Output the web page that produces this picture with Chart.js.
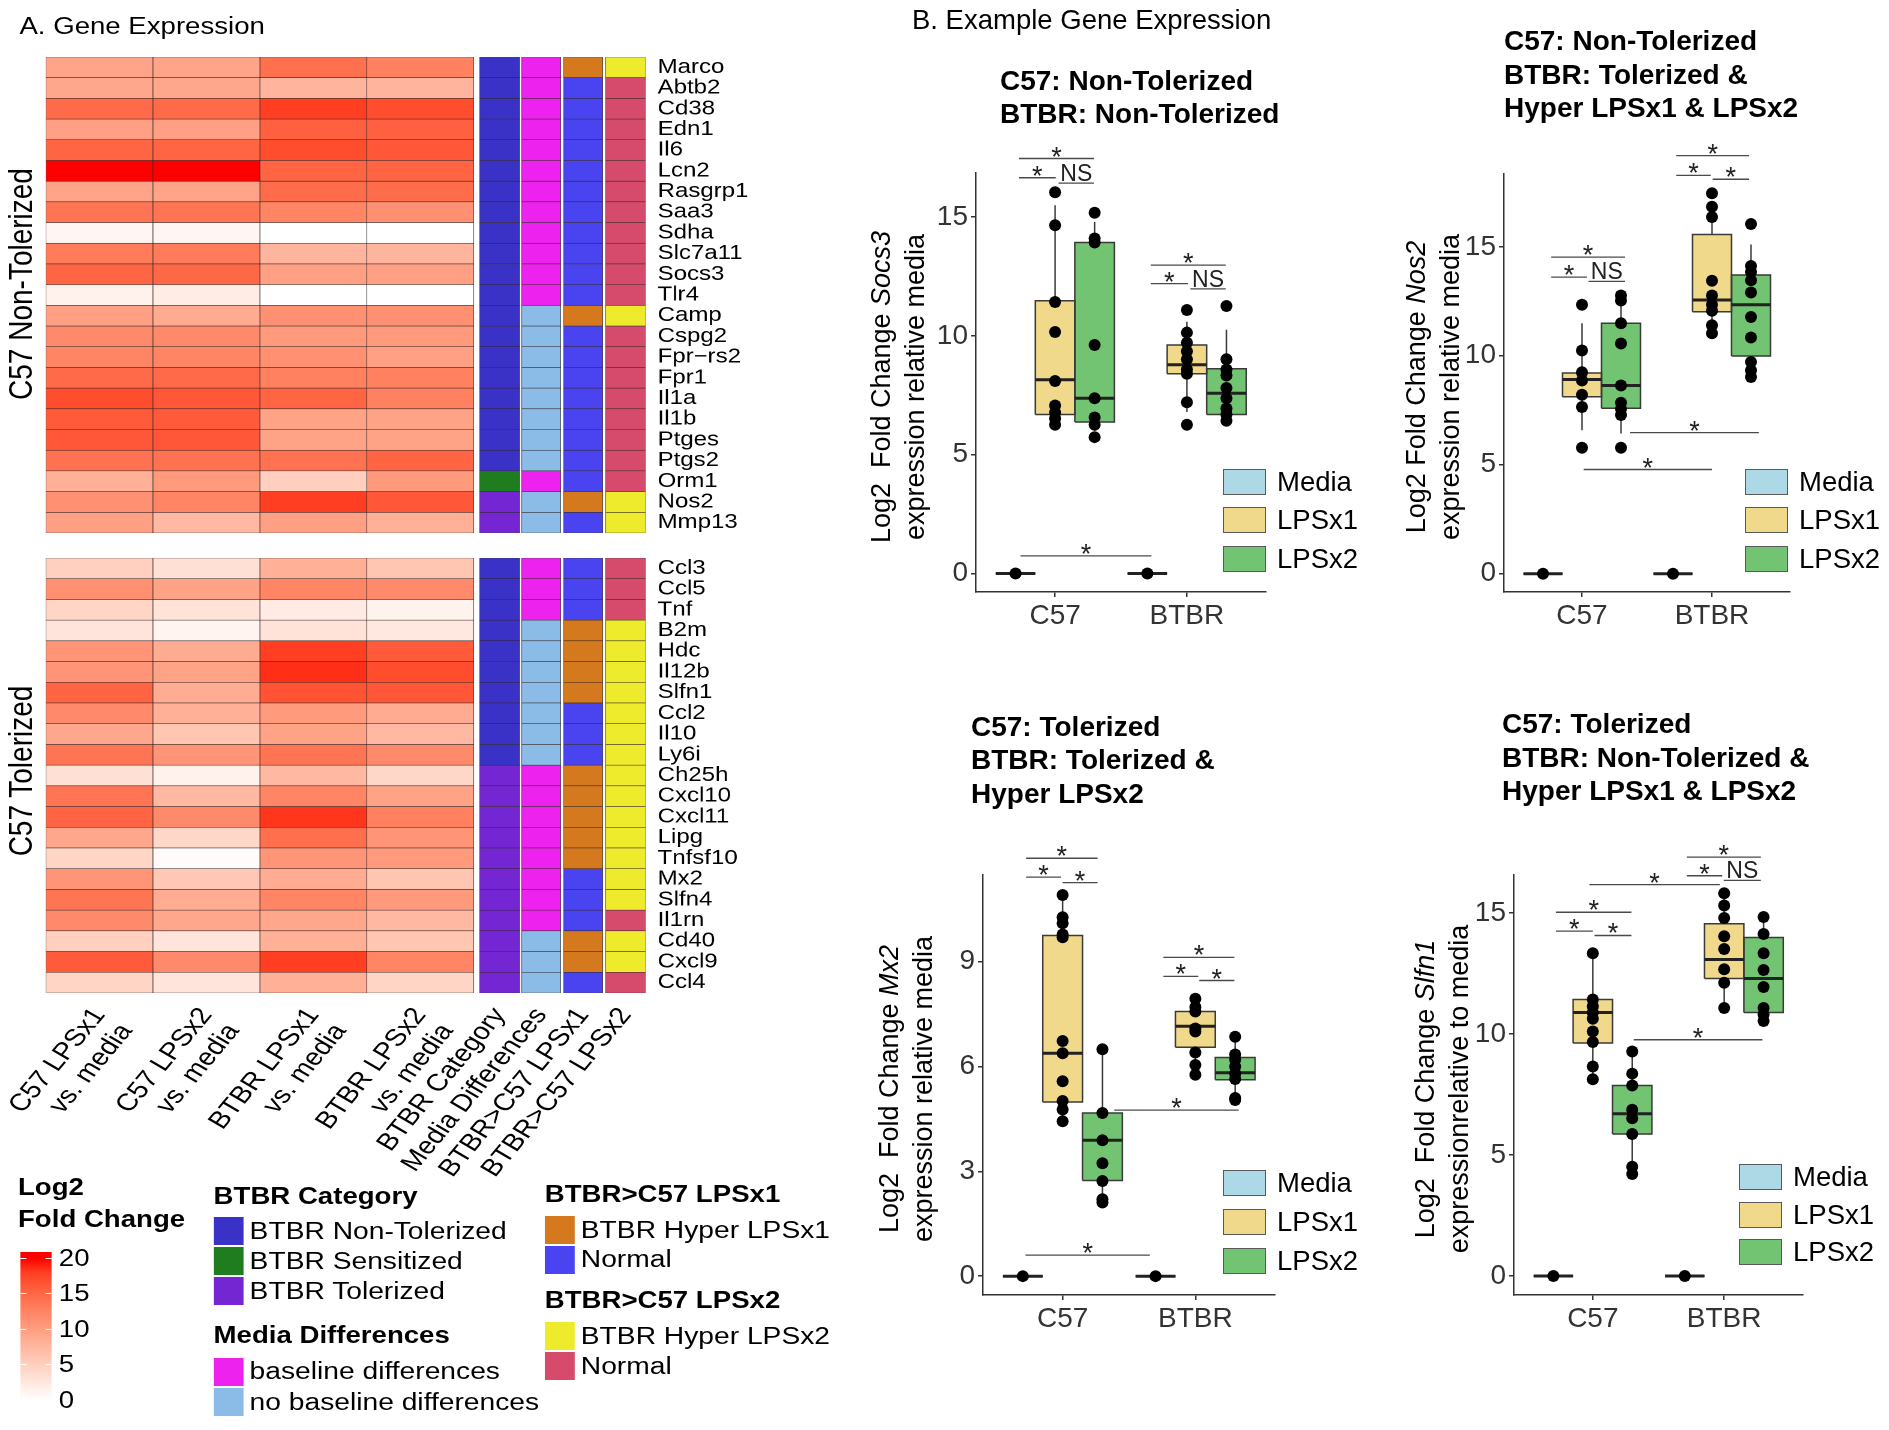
<!DOCTYPE html>
<html>
<head>
<meta charset="utf-8">
<title>Gene expression</title>
<script src="https://cdn.jsdelivr.net/npm/chart.js@4.4.1/dist/chart.umd.min.js"></script>
<style>
  html, body { margin: 0; padding: 0; background: #fff; }
  body { width: 1889px; height: 1430px; position: relative; overflow: hidden;
         font-family: 'Liberation Sans', Arial, Helvetica, sans-serif; color: #000; }
  #panelA { position: absolute; left: 0; top: 0; width: 1575px; height: 1430px;
            transform: scaleX(1.2); transform-origin: 0 0; }
  #panelB { position: absolute; left: 0; top: 0; width: 1889px; height: 1430px; }
  .t { position: absolute; white-space: nowrap; }
  .k { position: absolute; box-sizing: border-box; }
  canvas { position: absolute; }
</style>
</head>
<body>
<div id="panelA"></div>
<div id="panelB"></div>
<script>
const FONT = "'Liberation Sans', Arial, Helvetica, sans-serif";
Chart.defaults.font.family = FONT;
Chart.defaults.animation = false;

// ---------- A. heatmap ----------
const genesTop = ['Marco', 'Abtb2', 'Cd38', 'Edn1', 'Il6', 'Lcn2', 'Rasgrp1', 'Saa3', 'Sdha', 'Slc7a11', 'Socs3', 'Tlr4',
  'Camp', 'Cspg2', 'Fpr\u2212rs2', 'Fpr1', 'Il1a', 'Il1b', 'Ptges', 'Ptgs2', 'Orm1', 'Nos2', 'Mmp13'];
const genesBottom = ['Ccl3', 'Ccl5', 'Tnf', 'B2m', 'Hdc', 'Il12b', 'Slfn1', 'Ccl2', 'Il10', 'Ly6i', 'Ch25h', 'Cxcl10',
  'Cxcl11', 'Lipg', 'Tnfsf10', 'Mx2', 'Slfn4', 'Il1rn', 'Cd40', 'Cxcl9', 'Ccl4'];
const heatLabels = [['C57 LPSx1', 'vs. media'], ['C57 LPSx2', 'vs. media'], ['BTBR LPSx1', 'vs. media'],
  ['BTBR LPSx2', 'vs. media'], 'BTBR Category', 'Media Differences', 'BTBR>C57 LPSx1', 'BTBR>C57 LPSx2'];

// log2 fold change, top block
const topC57x1  = [9.4, 9.1, 14.8, 9.8, 15.3, 20, 9.4, 13.9, 1, 13.3, 15.3, 1.5, 9.8, 11.9, 12.4, 14.8, 17, 16, 16.3, 14.1, 8.2, 11.3, 9.8];
const topC57x2  = [9.4, 9.1, 14.8, 9.8, 15.3, 20, 9.4, 13.9, 1, 13.3, 15, 2, 8.7, 11.9, 12.4, 14.8, 16.3, 16, 16.3, 14.1, 10.4, 12.4, 7.4];
const topBTBRx1 = [14.3, 7.7, 18, 15.6, 17, 15.3, 14.6, 12.4, 0, 7.7, 9.8, 0, 11.4, 10.4, 11.3, 12.8, 15.3, 9.5, 9.5, 14.1, 4.9, 18, 9.8];
const topBTBRx2 = [12.8, 7.7, 17, 15.6, 16.3, 15.3, 14.6, 11.3, 0, 7.7, 9.8, 0, 11.4, 10.4, 9.8, 12.8, 12.8, 9.5, 9.5, 15.3, 10.4, 16.3, 8.2];
// bottom block
const botC57x1  = [4.9, 11.3, 4.4, 2.8, 10.9, 10.9, 15.3, 11.9, 9.1, 13.9, 3.3, 13.9, 15.3, 9.1, 4.4, 10.9, 13.9, 11.9, 4.9, 16, 4.4];
const botC57x2  = [3.3, 9.5, 2.9, 1.2, 8.6, 9.5, 8.6, 8.2, 6, 10.9, 1.5, 7.4, 11.9, 4.2, 0.4, 5.8, 8.6, 9.1, 2.8, 11.9, 2.8];
const botBTBRx1 = [8.2, 12.4, 2.1, 3.0, 18, 18.8, 16.6, 10.4, 9.5, 13.9, 7.4, 12.4, 18.4, 14.4, 10.9, 8.6, 12.4, 9.1, 8.2, 18, 8.2];
const botBTBRx2 = [6, 11.9, 1.3, 2.4, 16, 17, 16.3, 8.7, 7.4, 11.9, 4.2, 9.5, 12.8, 10.9, 10.4, 6, 10.4, 7.4, 6, 12.4, 4.4];

// annotation columns
const catTop   = ['NT','NT','NT','NT','NT','NT','NT','NT','NT','NT','NT','NT','NT','NT','NT','NT','NT','NT','NT','NT','S','T','T'];
const mediaTop = ['B','B','B','B','B','B','B','B','B','B','B','B','NB','NB','NB','NB','NB','NB','NB','NB','B','NB','NB'];
const lps1Top  = ['H','N','N','N','N','N','N','N','N','N','N','N','H','N','N','N','N','N','N','N','N','H','N'];
const lps2Top  = ['H','N','N','N','N','N','N','N','N','N','N','N','H','N','N','N','N','N','N','N','N','H','H'];
const catBot   = ['NT','NT','NT','NT','NT','NT','NT','NT','NT','NT','T','T','T','T','T','T','T','T','T','T','T'];
const mediaBot = ['B','B','B','NB','NB','NB','NB','NB','NB','NB','B','B','B','B','B','B','B','B','NB','NB','NB'];
const lps1Bot  = ['N','N','N','H','H','H','H','N','N','N','H','H','H','H','H','N','N','N','H','H','N'];
const lps2Bot  = ['N','N','N','H','H','H','H','H','H','H','H','H','H','H','H','H','H','N','H','H','N'];

const annColors = {
  cat: { NT: '#3A31C6', S: '#1F7D1F', T: '#7526D3' },
  media: { B: '#EE22EE', NB: '#8BBCE8' },
  lps1: { H: '#D4791D', N: '#4A43F0' },
  lps2: { H: '#EDEB2C', N: '#D64B6B' }
};
const cbTicks = [0, 5, 10, 15, 20];

// ---------- B. box plots ----------
const strains = ['C57', 'BTBR'];
const mediaBox = [0, 0, 0, 0, 0];
const mediaPts = [0];
// [low whisker, q1, median, q3, high whisker] for C57 LPSx1, C57 LPSx2, BTBR LPSx1, BTBR LPSx2
const socs3Ticks = [0, 5, 10, 15];
const socs3Box = [[6.26, 6.69, 8.16, 11.48, 15.5], [6.0, 6.38, 7.38, 13.93, 14.8], [6.8, 8.41, 8.79, 9.62, 10.6], [6.43, 6.69, 7.59, 8.62, 10.26]];
const socs3Pts = [[16.05, 14.66, 11.43, 10.17, 8.1, 7.07, 6.78, 6.52, 6.26], [15.19, 14.1, 13.93, 9.62, 7.38, 6.57, 6.26, 5.74],
  [11.09, 10.14, 9.71, 9.36, 9.02, 8.59, 8.41, 7.21, 6.26], [11.26, 9.02, 8.59, 8.33, 7.81, 7.38, 6.95, 6.69, 6.43]];
const socs3Sig = [[0.726, 1.295, 17.47, '*'], [0.726, 1.005, 16.66, '*'], [1.026, 1.295, 16.43, 'NS'],
  [1.726, 2.295, 12.98, '*'], [1.726, 2.008, 12.2, '*'], [2.026, 2.295, 11.98, 'NS'], [0.738, 1.73, 0.74, '*']];

const nos2Ticks = [0, 5, 10, 15];
const nos2Box = [[6.58, 8.12, 8.91, 9.21, 11.49], [6.43, 7.59, 8.63, 11.49, 12.77], [11.3, 12.02, 12.56, 15.56, 16.9], [9.06, 9.99, 12.34, 13.71, 15.11]];
const nos2Pts = [[12.34, 10.24, 9.24, 8.87, 8.21, 7.65, 5.78], [12.77, 12.53, 11.49, 10.56, 8.63, 7.84, 7.56, 7.28, 5.78],
  [17.46, 16.84, 16.37, 13.44, 12.77, 12.34, 12.06, 11.4, 11.03], [16.05, 14.12, 13.84, 13.46, 12.9, 11.78, 10.84, 9.71, 9.34, 9.02]];
const nos2Sig = [[0.763, 1.331, 14.53, '*'], [0.763, 1.038, 13.61, '*'], [1.05, 1.331, 13.41, 'NS'],
  [1.725, 2.285, 19.18, '*'], [1.725, 1.99, 18.28, '*'], [2.005, 2.285, 18.1, '*'], [1.37, 2.36, 6.47, '*'], [1.013, 2.0, 4.78, '*']];

const mx2Ticks = [0, 3, 6, 9];
const mx2Box = [[4.43, 4.98, 6.38, 9.75, 10.91], [2.11, 2.74, 3.89, 4.67, 6.49], [5.76, 6.55, 7.15, 7.57, 7.94], [5.04, 5.62, 5.82, 6.26, 6.85]];
const mx2Pts = [[10.91, 10.27, 10.1, 9.78, 9.7, 6.73, 6.38, 5.58, 5.01, 4.77, 4.43], [6.49, 4.67, 3.89, 3.23, 2.72, 2.2, 2.11],
  [7.94, 7.7, 7.57, 7.09, 7.0, 6.4, 6.04, 5.76], [6.85, 6.34, 6.2, 6.0, 5.8, 5.64, 5.1, 5.04]];
const mx2Sig = [[0.725, 1.263, 11.96, '*'], [0.725, 0.988, 11.42, '*'], [1.0, 1.263, 11.26, '*'],
  [1.759, 2.294, 9.12, '*'], [1.759, 2.022, 8.58, '*'], [2.029, 2.294, 8.46, '*'], [1.389, 2.326, 4.75, '*'], [0.72, 1.657, 0.6, '*']];

const slfn1Ticks = [0, 5, 10, 15];
const slfn1Box = [[8.13, 9.63, 10.89, 11.42, 13.34], [4.16, 5.86, 6.7, 7.87, 9.27], [11.07, 12.29, 13.08, 14.56, 15.82], [10.54, 10.89, 12.29, 13.99, 14.83]];
const slfn1Pts = [[13.34, 11.42, 11.15, 10.89, 10.63, 10.1, 9.67, 8.65, 8.13], [9.27, 8.36, 7.87, 6.87, 6.52, 5.86, 4.51, 4.21],
  [15.82, 15.31, 14.79, 14.04, 13.51, 12.67, 12.12, 11.07], [14.83, 14.13, 13.34, 12.64, 11.94, 11.07, 10.8, 10.54]];
const slfn1Sig = [[0.719, 1.294, 15.03, '*'], [0.719, 1.0, 14.25, '*'], [1.013, 1.294, 14.07, '*'],
  [1.716, 2.279, 17.31, '*'], [1.716, 1.985, 16.54, '*'], [1.997, 2.279, 16.35, 'NS'], [0.974, 1.967, 16.17, '*'], [1.312, 2.291, 9.76, '*']];

const boxFill = { media: '#ADD8E6', x1: '#F0D98A', x2: '#72C472' };

// ---------- helpers ----------
const A = document.getElementById('panelA');
const B = document.getElementById('panelB');

function text(parent, html, left, cy, size, bold, lh) {
  lh = lh || Math.round(size * 1.25);
  const d = document.createElement('div');
  d.className = 't';
  d.style.left = left + 'px';
  d.style.top = (cy - lh / 2) + 'px';
  d.style.fontSize = size + 'px';
  d.style.lineHeight = lh + 'px';
  if (bold) d.style.fontWeight = '700';
  d.innerHTML = html;
  parent.appendChild(d);
  return d;
}
function vtext(parent, html, cx, cy, size, lh, lines) {
  const w = 600, h = lh * lines;
  const d = document.createElement('div');
  d.className = 't';
  d.style.cssText = `left:${cx - w / 2}px;top:${cy - h / 2}px;width:${w}px;height:${h}px;text-align:center;` +
    `font-size:${size}px;line-height:${lh}px;transform:rotate(-90deg);`;
  d.innerHTML = html;
  parent.appendChild(d);
}
function key(parent, left, cy, w, h, color, border) {
  const d = document.createElement('div');
  d.className = 'k';
  d.style.cssText = `left:${left}px;top:${cy - h / 2}px;width:${w}px;height:${h}px;background:${color};` +
    (border ? `border:1.5px solid ${border};` : '');
  parent.appendChild(d);
}
function canvas(parent, left, top, w, h) {
  const c = document.createElement('canvas');
  c.width = w; c.height = h;
  c.style.left = left + 'px';
  c.style.top = top + 'px';
  parent.appendChild(c);
  return c;
}

// white -> red in CIELAB, like ggplot's gradient
function labToRgb(L, a, b) {
  let y = (L + 16) / 116, x = a / 500 + y, z = y - b / 200;
  const f = t => t * t * t > 0.008856 ? t * t * t : (t - 16 / 116) / 7.787;
  x = 0.95047 * f(x); y = f(y); z = 1.08883 * f(z);
  const r = x * 3.2406 - y * 1.5372 - z * 0.4986;
  const g = -x * 0.9689 + y * 1.8758 + z * 0.0415;
  const bl = x * 0.0557 - y * 0.2040 + z * 1.0570;
  const gam = c => c > 0.0031308 ? 1.055 * Math.pow(c, 1 / 2.4) - 0.055 : 12.92 * c;
  return [r, g, bl].map(c => Math.round(Math.max(0, Math.min(1, gam(c))) * 255));
}
function heatColor(v) {
  const t = Math.max(0, Math.min(1, v / 20));
  const [r, g, b] = labToRgb(100 - 46.7592 * t, 80.0925 * t, 67.2032 * t);
  return `rgb(${r},${g},${b})`;
}

// ---------- heatmap charts ----------
const colEdges = [[0, 1], [1, 2], [2, 3], [3, 4], [4.056, 4.43], [4.449, 4.813], [4.841, 5.206], [5.234, 5.607]];

function heatmap(cv, genes, columns, showX) {
  new Chart(cv, {
    type: 'bar',
    data: {
      labels: genes,
      datasets: columns.map((colors, j) => ({
        data: genes.map(() => colEdges[j]),
        backgroundColor: colors,
        borderColor: 'rgba(45,30,30,0.85)',
        borderWidth: 0.6,
        borderSkipped: false,
        grouped: false,
        barPercentage: 1,
        categoryPercentage: 1
      }))
    },
    options: {
      indexAxis: 'y',
      responsive: false,
      devicePixelRatio: 2,
      events: [],
      layout: { padding: { left: 38.3, right: 10, top: 20, bottom: showX ? 10 : 20 } },
      plugins: { legend: { display: false }, tooltip: { enabled: false } },
      scales: {
        y: {
          type: 'category', position: 'right',
          grid: { display: false }, border: { display: false },
          ticks: { autoSkip: false, color: '#000', padding: 2, font: { size: 20 } },
          afterFit: s => { s.width = 110; }
        },
        x: {
          type: 'linear', min: 0, max: 5.607, display: showX,
          grid: { display: false }, border: { display: false },
          afterBuildTicks: s => { s.ticks = colEdges.map(e => ({ value: (e[0] + e[1]) / 2 })); },
          ticks: {
            autoSkip: false, minRotation: 55, maxRotation: 55, color: '#000', padding: 2,
            font: { size: 24, lineHeight: 1.15 },
            callback: (v, i) => heatLabels[i]
          },
          afterFit: s => { s.height = showX ? 200 : 0; }
        }
      }
    }
  });
}

function columnsFor(c1, c2, b1, b2, cat, media, l1, l2) {
  return [c1.map(heatColor), c2.map(heatColor), b1.map(heatColor), b2.map(heatColor),
    cat.map(c => annColors.cat[c]), media.map(c => annColors.media[c]),
    l1.map(c => annColors.lps1[c]), l2.map(c => annColors.lps2[c])];
}

heatmap(canvas(A, 0, 37.3, 658, 516), genesTop,
  columnsFor(topC57x1, topC57x2, topBTBRx1, topBTBRx2, catTop, mediaTop, lps1Top, lps2Top), false);
heatmap(canvas(A, 0, 538.3, 658, 665), genesBottom,
  columnsFor(botC57x1, botC57x2, botBTBRx1, botBTBRx2, catBot, mediaBot, lps1Bot, lps2Bot), true);

text(A, 'A. Gene Expression', 16.2, 26.7, 23);
vtext(A, 'C57 Non-Tolerized', 18, 284, 28, 34, 1);
vtext(A, 'C57 Tolerized', 18, 771, 28, 34, 1);

// heatmap legends
text(A, 'Log2', 15, 1187, 23, true);
text(A, 'Fold Change', 15, 1219, 23, true);
const bar = document.createElement('div');
bar.className = 'k';
const stops = [];
for (let v = 0; v <= 20; v += 2) stops.push(`${heatColor(v)} ${((2 + v * 7.1) / 150 * 100).toFixed(1)}%`);
bar.style.cssText = `left:16.7px;top:1252px;width:26.7px;height:150px;background:linear-gradient(to top, ${stops.join(',')});`;
A.appendChild(bar);
cbTicks.forEach(v => {
  text(A, String(v), 49, 1400 - v * 7.1, 23);
  if (v > 0) {
    [16.7, 38.1].forEach(x => {
      const tk = document.createElement('div');
      tk.className = 'k';
      tk.style.cssText = `left:${x}px;top:${1400 - v * 7.1 - 0.5}px;width:5.3px;height:1px;background:#fff;`;
      A.appendChild(tk);
    });
  }
});

text(A, 'BTBR Category', 178, 1196, 23, true);
[['NT', 'BTBR Non-Tolerized', 1231], ['S', 'BTBR Sensitized', 1261], ['T', 'BTBR Tolerized', 1291]].forEach(([c, l, y]) => {
  key(A, 178, y, 25, 28, annColors.cat[c]); text(A, l, 208, y, 23.5);
});
text(A, 'Media Differences', 178, 1335, 23, true);
[['B', 'baseline differences', 1371.5], ['NB', 'no baseline differences', 1402]].forEach(([c, l, y]) => {
  key(A, 178, y, 25, 28, annColors.media[c]); text(A, l, 208, y, 23.5);
});
text(A, 'BTBR&gt;C57 LPSx1', 454, 1194, 23, true);
[['H', 'BTBR Hyper LPSx1', 1230], ['N', 'Normal', 1259.5]].forEach(([c, l, y]) => {
  key(A, 454, y, 25, 28, annColors.lps1[c]); text(A, l, 484, y, 23.5);
});
text(A, 'BTBR&gt;C57 LPSx2', 454, 1300, 23, true);
[['H', 'BTBR Hyper LPSx2', 1336], ['N', 'Normal', 1366]].forEach(([c, l, y]) => {
  key(A, 454, y, 25, 28, annColors.lps2[c]); text(A, l, 484, y, 23.5);
});

// ---------- box plot charts ----------
const AX = '#333';
const BOXLINE = '#3a3a3a';

function sigPlugin(sigs) {
  return {
    id: 'sig',
    afterDatasetsDraw(chart) {
      const { ctx, scales: { x, y } } = chart;
      ctx.save();
      ctx.fillStyle = '#222';
      ctx.textAlign = 'center';
      ctx.textBaseline = 'alphabetic';
      sigs.forEach(([a, b, v, lab]) => {
        const px = x.getPixelForValue((a + b) / 2), py = y.getPixelForValue(v);
        if (lab === 'NS') { ctx.font = `23px ${FONT}`; ctx.fillText(lab, px, py - 2); }
        else { ctx.font = `27px ${FONT}`; ctx.fillText(lab, px, py + 7); }
      });
      ctx.restore();
    }
  };
}

function seg(p, q, color, width, order) {
  return { type: 'line', data: [p, q], borderColor: color, borderWidth: width, pointRadius: 0,
    pointHitRadius: 0, fill: false, clip: false, order };
}

function boxPlot(g, ticks, boxes, pts, sigs) {
  const groups = [
    { x: 0.7, s: mediaBox, p: mediaPts, c: boxFill.media },
    { x: 1.0, s: boxes[0], p: pts[0], c: boxFill.x1 },
    { x: 1.3, s: boxes[1], p: pts[1], c: boxFill.x2 },
    { x: 1.7, s: mediaBox, p: mediaPts, c: boxFill.media },
    { x: 2.0, s: boxes[2], p: pts[2], c: boxFill.x1 },
    { x: 2.3, s: boxes[3], p: pts[3], c: boxFill.x2 }
  ];
  const ds = [];
  groups.forEach(gr => {
    const [lo, q1, md, q3, hi] = gr.s;
    const x0 = gr.x - 0.15, x1 = gr.x + 0.15;
    ds.push({ type: 'line', data: [{ x: x0, y: q3 }, { x: x1, y: q3 }], fill: { value: q1 },
      backgroundColor: gr.c, borderColor: 'rgba(0,0,0,0)', borderWidth: 0, pointRadius: 0, clip: false, order: 5 });
    ds.push({ type: 'line', data: [{ x: x0, y: q1 }, { x: x0, y: q3 }, { x: x1, y: q3 }, { x: x1, y: q1 }, { x: x0, y: q1 }],
      borderColor: BOXLINE, borderWidth: 1.5, pointRadius: 0, fill: false, clip: false, order: 4 });
    ds.push(seg({ x: gr.x, y: q3 }, { x: gr.x, y: hi }, BOXLINE, 1.5, 4));
    ds.push(seg({ x: gr.x, y: lo }, { x: gr.x, y: q1 }, BOXLINE, 1.5, 4));
    ds.push(seg({ x: x0, y: md }, { x: x1, y: md }, '#222', 3, 3));
    ds.push({ type: 'scatter', data: gr.p.map(v => ({ x: gr.x, y: v })), pointRadius: 6,
      backgroundColor: '#000', borderWidth: 0, clip: false, order: 0 });
  });
  sigs.forEach(([a, b, v]) => ds.push(seg({ x: a, y: v }, { x: b, y: v }, '#4a4a4a', 1.3, 2)));

  const axisGrid = { display: true, drawOnChartArea: false, drawTicks: true, tickLength: 5, color: AX, lineWidth: 1.5 };
  const cv = canvas(B, g.L - 70, g.T - 70, g.R - g.L + 110, g.B - g.T + 130);
  new Chart(cv, {
    type: 'scatter',
    data: { datasets: ds },
    options: {
      responsive: false,
      events: [],
      layout: { padding: { left: 0, top: 70, right: 40, bottom: 10 } },
      plugins: { legend: { display: false }, tooltip: { enabled: false } },
      scales: {
        x: {
          type: 'linear', min: 0.4, max: 2.6,
          afterBuildTicks: s => { s.ticks = [1, 2].map(v => ({ value: v })); },
          ticks: { callback: (v, i) => strains[i], color: AX, font: { size: 28 }, padding: 2, maxRotation: 0 },
          grid: axisGrid, border: { display: true, color: AX, width: 1.5 },
          afterFit: s => { s.height = 50; }
        },
        y: {
          type: 'linear', min: g.ymin, max: g.ymax,
          afterBuildTicks: s => { s.ticks = ticks.map(v => ({ value: v })); },
          ticks: { color: AX, font: { size: 28 }, padding: 3 },
          grid: axisGrid, border: { display: true, color: AX, width: 1.5 },
          afterFit: s => { s.width = 70; }
        }
      }
    },
    plugins: [sigPlugin(sigs)]
  });

  // titles, axis title and legend
  g.title.forEach((l, i) => text(B, l, g.tx, g.ty + i * 33.5, 28, true, 33.5));
  vtext(B, g.ytitle.join('<br>'), g.ax, (g.T + g.B) / 2 + 4, 27, 34, 2);
  [['Media', boxFill.media], ['LPSx1', boxFill.x1], ['LPSx2', boxFill.x2]].forEach(([l, c], i) => {
    key(B, g.kx, g.ky[i], 43, 26, c, '#5a5a5a');
    text(B, l, g.kx + 54, g.ky[i], 27.5);
  });
}

text(B, 'B. Example Gene Expression', 912, 20.4, 27.5);

boxPlot({ L: 976, T: 173, R: 1266, B: 592, ymin: -0.78, ymax: 16.86,
  title: ['C57: Non-Tolerized', 'BTBR: Non-Tolerized'], tx: 1000, ty: 80.6,
  ytitle: ['Log2&nbsp;&nbsp;Fold Change <i>Socs3</i>', 'expression relative media'], ax: 898,
  kx: 1223, ky: [482, 520, 559] }, socs3Ticks, socs3Box, socs3Pts, socs3Sig);

boxPlot({ L: 1504, T: 174, R: 1790, B: 592, ymin: -0.84, ymax: 18.34,
  title: ['C57: Non-Tolerized', 'BTBR: Tolerized &amp;', 'Hyper LPSx1 &amp; LPSx2'], tx: 1504, ty: 40.8,
  ytitle: ['Log2 Fold Change <i>Nos2</i>', 'expression relative media'], ax: 1433,
  kx: 1745, ky: [482, 520, 559] }, nos2Ticks, nos2Box, nos2Pts, nos2Sig);

boxPlot({ L: 983, T: 875, R: 1275, B: 1295, ymin: -0.54, ymax: 11.48,
  title: ['C57: Tolerized', 'BTBR: Tolerized &amp;', 'Hyper LPSx2'], tx: 971, ty: 726.3,
  ytitle: ['Log2&nbsp;&nbsp;Fold Change <i>Mx2</i>', 'expression relative media'], ax: 906,
  kx: 1223, ky: [1183, 1222, 1261] }, mx2Ticks, mx2Box, mx2Pts, mx2Sig);

boxPlot({ L: 1514, T: 875, R: 1803, B: 1295, ymin: -0.79, ymax: 16.57,
  title: ['C57: Tolerized', 'BTBR: Non-Tolerized &amp;', 'Hyper LPSx1 &amp; LPSx2'], tx: 1502, ty: 724,
  ytitle: ['Log2&nbsp;&nbsp;Fold Change <i>Slfn1</i>', 'expressionrelative to media'], ax: 1442,
  kx: 1739, ky: [1177, 1215, 1252] }, slfn1Ticks, slfn1Box, slfn1Pts, slfn1Sig);
</script>
</body>
</html>
